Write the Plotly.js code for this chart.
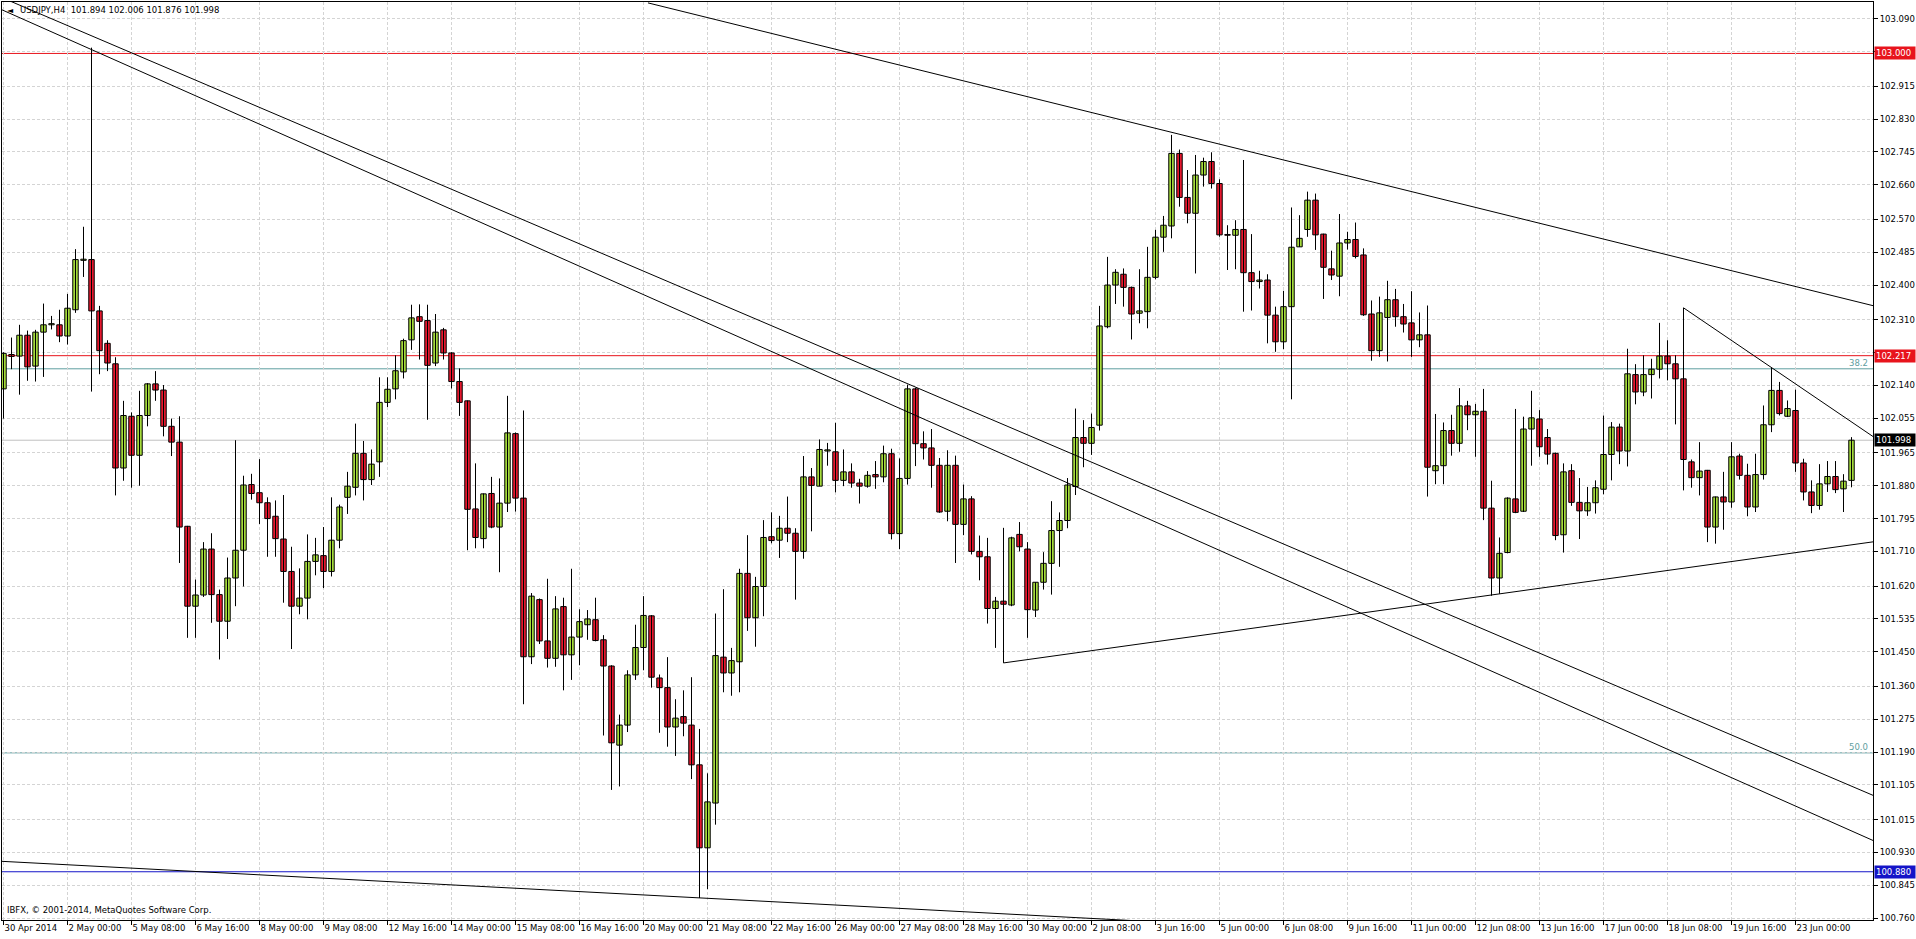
<!DOCTYPE html>
<html>
<head>
<meta charset="utf-8">
<script src="https://cdn.plot.ly/plotly-3.0.1.min.js"></script>
<style>
  html, body { margin: 0; padding: 0; background: #ffffff; }
  #chart { width: 1916px; height: 939px; }
</style>
</head>
<body>
<div id="chart"></div>
<script>
// ---------- DATA ----------
const symbolTitle = "USDJPY,H4  101.894 102.006 101.876 101.998";
const copyrightText = "IBFX, \u00a9 2001-2014, MetaQuotes Software Corp.";

// x-axis labels, one every 8 H4 bars
const dateLabels = ["30 Apr 2014","2 May 00:00","5 May 08:00","6 May 16:00","8 May 00:00","9 May 08:00",
  "12 May 16:00","14 May 00:00","15 May 08:00","16 May 16:00","20 May 00:00","21 May 08:00",
  "22 May 16:00","26 May 00:00","27 May 08:00","28 May 16:00","30 May 00:00","2 Jun 08:00",
  "3 Jun 16:00","5 Jun 00:00","6 Jun 08:00","9 Jun 16:00","11 Jun 00:00","12 Jun 08:00",
  "13 Jun 16:00","17 Jun 00:00","18 Jun 08:00","19 Jun 16:00","23 Jun 00:00"];
const barsPerLabel = 8;

// price scale labels (right axis)
const priceTickVals = [103.090,103.005,102.915,102.830,102.745,102.660,102.570,102.485,102.400,102.310,102.225,
  102.140,102.055,101.965,101.880,101.795,101.710,101.620,101.535,101.450,101.360,101.275,101.190,
  101.105,101.015,100.930,100.845,100.760];
const priceTickText = ["103.090","","102.915","102.830","102.745","102.660","102.570","102.485","102.400","102.310","",
  "102.140","102.055","101.965","101.880","101.795","101.710","101.620","101.535","101.450","101.360","101.275","101.190",
  "101.105","101.015","100.930","100.845","100.760"];

// OHLC of the 232 H4 bars
const opens = [
102.131,102.220,102.216,102.270,102.190,102.278,102.297,102.297,102.268,102.336,
102.464,102.466,102.333,102.249,102.196,101.926,102.060,101.959,102.062,102.144,
102.128,102.034,101.993,101.775,101.568,101.597,101.716,101.598,101.529,101.641,
101.713,101.883,101.862,101.836,101.801,101.742,101.658,101.568,101.589,101.684,
101.699,101.658,101.739,101.850,101.876,101.964,101.896,101.942,102.096,102.131,
102.175,102.258,102.318,102.308,102.198,102.284,102.224,102.150,102.100,101.820,
101.743,101.860,101.773,101.835,102.015,101.848,101.437,101.585,101.478,101.433,
101.567,101.442,101.488,101.520,101.533,101.481,101.413,101.208,101.260,101.390,
101.461,101.543,101.382,101.357,101.255,101.282,101.260,101.157,100.942,101.058,
101.436,101.395,101.424,101.653,101.538,101.619,101.748,101.739,101.770,101.757,
101.710,101.903,101.879,101.970,101.968,101.894,101.916,101.887,101.879,101.909,
101.903,101.963,101.756,101.899,102.131,101.989,101.978,101.933,101.814,101.933,
101.780,101.846,101.710,101.696,101.562,101.581,101.571,101.754,101.716,101.558,
101.630,101.679,101.764,101.790,101.878,102.005,101.990,102.037,102.292,102.400,
102.428,102.394,102.327,102.331,102.420,102.524,102.553,102.741,102.627,102.586,
102.685,102.720,102.663,102.531,102.529,102.544,102.432,102.409,102.413,102.322,
102.253,102.344,102.499,102.544,102.620,102.532,102.442,102.423,102.509,102.518,
102.478,102.325,102.230,102.316,102.362,102.318,102.302,102.258,102.271,101.919,
101.932,102.023,101.990,102.087,102.064,102.073,101.822,101.641,101.707,101.846,
101.814,102.027,102.053,102.005,101.964,101.753,101.919,101.837,101.815,101.836,
101.871,101.961,102.032,101.970,102.168,102.123,102.168,102.182,102.216,102.196,
102.157,101.942,101.901,101.920,101.773,101.851,101.838,101.957,101.907,101.825,
101.909,102.038,102.127,102.060,102.075,101.939,101.864,101.829,101.885,101.904,
101.872,101.894];
const highs = [
102.226,102.264,102.297,102.282,102.284,102.352,102.320,102.336,102.377,102.493,
102.551,103.015,102.346,102.257,102.213,102.100,102.070,102.126,102.146,102.177,
102.141,102.054,102.060,101.776,101.637,101.734,101.757,101.611,101.694,101.998,
101.906,101.911,101.949,101.850,101.842,101.856,101.722,101.666,101.754,101.745,
101.773,101.850,101.831,101.916,102.041,101.996,101.974,102.161,102.161,102.218,
102.261,102.349,102.350,102.349,102.325,102.289,102.226,102.184,102.101,101.938,
101.860,101.903,101.899,102.113,102.018,102.075,101.602,101.588,101.639,101.594,
101.590,101.665,101.560,101.558,101.590,101.493,101.415,101.287,101.402,101.520,
101.594,101.545,101.391,101.436,101.327,101.350,101.384,101.250,101.135,101.549,
101.612,101.460,101.665,101.752,101.644,101.791,101.811,101.802,101.852,101.770,
101.957,101.926,102.000,101.991,102.043,101.974,101.938,101.898,101.918,101.944,
101.984,101.976,101.951,102.142,102.134,102.021,102.027,101.952,101.972,101.958,
101.883,101.853,101.751,101.745,101.592,101.771,101.748,101.786,101.734,101.630,
101.708,101.840,101.811,101.900,102.080,102.050,102.067,102.346,102.473,102.441,
102.443,102.396,102.441,102.499,102.543,102.579,102.789,102.751,102.698,102.737,
102.730,102.744,102.674,102.555,102.568,102.724,102.532,102.437,102.428,102.344,
102.385,102.601,102.581,102.642,102.637,102.533,102.489,102.584,102.538,102.562,
102.495,102.360,102.370,102.411,102.390,102.351,102.384,102.329,102.347,102.066,
102.044,102.064,102.133,102.100,102.092,102.131,101.893,101.746,101.850,102.079,
102.059,102.126,102.076,102.027,101.966,101.938,101.936,101.900,101.877,101.894,
102.062,102.045,102.041,102.235,102.195,102.218,102.209,102.302,102.257,102.218,
102.341,101.948,101.993,101.921,101.852,101.916,101.993,101.963,101.937,101.963,
102.088,102.186,102.149,102.101,102.129,101.950,101.894,101.936,101.944,101.944,
101.910,102.006];
const lows = [
102.054,102.182,102.116,102.152,102.150,102.162,102.285,102.252,102.246,102.328,
102.421,102.124,102.169,102.177,101.855,101.893,101.875,101.880,102.034,102.100,
102.008,101.957,101.680,101.486,101.486,101.592,101.525,101.430,101.483,101.568,
101.619,101.844,101.781,101.696,101.696,101.577,101.457,101.547,101.534,101.648,
101.615,101.645,101.718,101.807,101.855,101.842,101.882,101.903,102.084,102.104,
102.158,102.232,102.207,102.051,102.190,102.207,102.132,102.061,101.713,101.718,
101.718,101.770,101.656,101.812,101.813,101.314,101.418,101.470,101.409,101.411,
101.350,101.377,101.415,101.481,101.477,101.233,101.092,101.101,101.242,101.377,
101.402,101.357,101.240,101.204,101.180,101.231,101.120,100.812,100.835,101.002,
101.345,101.336,101.345,101.504,101.463,101.542,101.731,101.693,101.734,101.585,
101.691,101.762,101.879,101.932,101.863,101.879,101.875,101.834,101.875,101.872,
101.889,101.741,101.716,101.883,101.931,101.948,101.875,101.810,101.788,101.680,
101.752,101.702,101.635,101.523,101.460,101.421,101.568,101.710,101.486,101.540,
101.611,101.598,101.670,101.770,101.856,101.928,101.960,102.023,102.288,102.351,
102.344,102.259,102.301,102.288,102.415,102.486,102.521,102.603,102.560,102.430,
102.655,102.650,102.525,102.439,102.441,102.331,102.334,102.391,102.249,102.227,
102.234,102.104,102.499,102.525,102.491,102.364,102.413,102.371,102.492,102.469,
102.320,102.204,102.214,102.202,102.292,102.277,102.214,102.239,101.852,101.884,
101.884,101.958,101.968,102.024,101.955,101.791,101.595,101.600,101.705,101.809,
101.812,101.932,101.955,101.935,101.739,101.707,101.828,101.742,101.802,101.808,
101.858,101.894,101.936,101.930,102.091,102.112,102.106,102.158,102.153,102.039,
101.868,101.875,101.855,101.734,101.730,101.766,101.823,101.896,101.801,101.812,
101.896,102.019,102.062,102.058,101.916,101.842,101.809,101.818,101.864,101.861,
101.812,101.876];
const closes = [
102.223,102.215,102.270,102.188,102.278,102.297,102.300,102.268,102.340,102.466,
102.467,102.333,102.230,102.198,101.926,102.062,101.959,102.062,102.144,102.128,
102.034,101.993,101.773,101.568,101.597,101.716,101.598,101.529,101.641,101.713,
101.882,101.860,101.836,101.795,101.743,101.658,101.568,101.589,101.684,101.701,
101.658,101.739,101.825,101.879,101.964,101.896,101.936,102.096,102.130,102.178,
102.256,102.315,102.306,102.192,102.278,102.224,102.150,102.096,101.819,101.746,
101.859,101.773,101.835,102.017,101.848,101.437,101.594,101.478,101.433,101.561,
101.442,101.488,101.528,101.535,101.479,101.413,101.214,101.260,101.390,101.461,
101.544,101.384,101.357,101.255,101.278,101.265,101.157,100.942,101.061,101.440,
101.395,101.427,101.653,101.538,101.619,101.746,101.738,101.770,101.757,101.710,
101.903,101.881,101.974,101.973,101.894,101.916,101.887,101.879,101.907,101.903,
101.963,101.756,101.899,102.131,101.989,101.978,101.933,101.812,101.933,101.780,
101.846,101.710,101.696,101.562,101.581,101.573,101.745,101.722,101.559,101.630,
101.679,101.764,101.790,101.882,102.005,101.990,102.031,102.294,102.400,102.433,
102.394,102.325,102.333,102.420,102.524,102.555,102.741,102.627,102.586,102.685,
102.720,102.663,102.530,102.529,102.544,102.432,102.409,102.413,102.322,102.253,
102.344,102.498,102.521,102.620,102.530,102.446,102.426,102.509,102.518,102.474,
102.323,102.230,102.328,102.362,102.318,102.299,102.258,102.271,101.928,101.932,
102.023,101.990,102.087,102.064,102.073,101.822,101.641,101.705,101.848,101.811,
102.027,102.056,101.981,101.962,101.751,101.916,101.837,101.815,101.836,101.875,
101.961,102.032,101.970,102.170,102.123,102.168,102.182,102.216,102.196,102.157,
101.948,101.901,101.918,101.773,101.851,101.838,101.955,101.907,101.825,101.909,
102.038,102.127,102.067,102.080,101.939,101.864,101.829,101.885,101.904,101.870,
101.892,101.998];

// horizontal levels drawn on the chart
const levelPrices = [103.000, 102.217, 100.880];
const levelColors = ["#e8141c", "#e8141c", "#1414c8"];
const fibPrices = [102.183, 101.188];
const fibNames = ["38.2", "50.0"];
const bidPrice = 101.998;

// trendlines: [barIndex0, price0, barIndex1, price1]
const trendLines = [
  [80.56, 103.131, 233.8, 102.346],
  [-0.19, 103.113, 233.8, 100.960],
  [0.00, 103.143, 233.8, 101.077],
  [-0.19, 100.907, 160.0, 100.733],
  [125.0, 101.421, 233.8, 101.735],
  [210.0, 102.341, 233.8, 102.006]
];

// ---------- BUILD ----------
const n = opens.length;
const idx = Array.from({length: n}, (_, i) => i);
const up = idx.map(i => closes[i] >= opens[i]);
const bodyBase = idx.map(i => Math.min(opens[i], closes[i]));
const bodyH = idx.map(i => Math.abs(closes[i] - opens[i]));
const bodyColor = idx.map(i => up[i] ? "#a6dc3c" : "#e8182e");

const wickX = [], wickY = [];
for (let i = 0; i < n; i++) { wickX.push(i, i, null); wickY.push(lows[i], highs[i], null); }

const FONT = "DejaVu Sans, Tahoma, sans-serif";
const FS = 8.5;

const traces = [
  { type: "scatter", mode: "lines", x: wickX, y: wickY,
    line: {color: "#000000", width: 1}, hoverinfo: "skip", showlegend: false },
  { type: "bar", x: idx, y: bodyH, base: bodyBase, width: 0.68,
    marker: {color: bodyColor, line: {color: "#000000", width: 1}},
    hoverinfo: "skip", showlegend: false }
];

const shapes = [];
levelPrices.forEach((p, k) => shapes.push({type: "line", xref: "paper", x0: 0, x1: 1, yref: "y", y0: p, y1: p,
  line: {color: levelColors[k], width: 1}, layer: "below"}));
fibPrices.forEach(p => shapes.push({type: "line", xref: "paper", x0: 0, x1: 1, yref: "y", y0: p, y1: p,
  line: {color: "#5f9ea0", width: 1}, layer: "below"}));
shapes.push({type: "line", xref: "paper", x0: 0, x1: 1, yref: "y", y0: bidPrice, y1: bidPrice,
  line: {color: "#c0c0c0", width: 1}, layer: "below"});
trendLines.forEach(t => shapes.push({type: "line", xref: "x", yref: "y", x0: t[0], y0: t[1], x1: t[2], y1: t[3],
  line: {color: "#000000", width: 1}, layer: "above"}));

const annotations = [
  {xref: "paper", yref: "paper", x: 0, y: 1, xanchor: "left", yanchor: "middle", xshift: 3, yshift: -8,
   text: "\u25c4", showarrow: false, font: {family: FONT, size: 8, color: "#000"}},
  {xref: "paper", yref: "paper", x: 0, y: 1, xanchor: "left", yanchor: "middle", xshift: 16, yshift: -8,
   text: symbolTitle, showarrow: false, font: {family: FONT, size: FS, color: "#000"}},
  {xref: "paper", yref: "paper", x: 0, y: 0, xanchor: "left", yanchor: "middle", xshift: 3, yshift: 10,
   text: copyrightText, showarrow: false, font: {family: FONT, size: FS, color: "#000"}}
];
fibPrices.forEach((p, k) => annotations.push({xref: "paper", yref: "y", x: 1, y: p, xanchor: "right", yanchor: "bottom",
  xshift: -3, yshift: -1, text: fibNames[k], showarrow: false, font: {family: FONT, size: FS, color: "#5f9ea0"}}));
const boxes = [[levelPrices[0], levelColors[0]], [levelPrices[1], levelColors[1]], [levelPrices[2], levelColors[2]], [bidPrice, "#000000"]];
boxes.forEach(b => annotations.push({xref: "paper", yref: "y", x: 1, y: b[0], xanchor: "left", yanchor: "middle",
  xshift: 1, text: b[0].toFixed(3), showarrow: false, bgcolor: b[1], borderpad: 1, width: 38, align: "left",
  font: {family: FONT, size: FS, color: "#ffffff"}}));

const layout = {
  width: 1916, height: 939,
  margin: {l: 2, r: 43, t: 2, b: 19, pad: 0},
  paper_bgcolor: "#ffffff", plot_bgcolor: "#ffffff",
  showlegend: false, bargap: 0,
  font: {family: FONT, size: FS, color: "#000"},
  xaxis: {
    range: [-0.1875, 233.6875], fixedrange: true,
    tickmode: "array",
    tickvals: dateLabels.map((_, k) => k * barsPerLabel),
    ticktext: dateLabels,
    tickangle: 0, automargin: false,
    ticks: "outside", ticklen: 4, tickcolor: "#000", ticklabelposition: "outside right",
    tickfont: {family: FONT, size: FS, color: "#000"},
    showgrid: true, gridcolor: "#d4d4d4", griddash: "3px,2px", gridwidth: 1,
    showline: true, mirror: true, linecolor: "#000", linewidth: 1, zeroline: false
  },
  yaxis: {
    range: [100.755, 103.1333], side: "right", fixedrange: true,
    tickmode: "array", tickvals: priceTickVals, ticktext: priceTickText,
    ticks: "outside", ticklen: 4, tickcolor: "#000", automargin: false,
    tickfont: {family: FONT, size: FS, color: "#000"},
    showgrid: true, gridcolor: "#d4d4d4", griddash: "3px,2px", gridwidth: 1,
    showline: true, mirror: true, linecolor: "#000", linewidth: 1, zeroline: false
  },
  shapes: shapes,
  annotations: annotations
};

Plotly.newPlot("chart", traces, layout, {staticPlot: true, displayModeBar: false});
</script>
</body>
</html>
